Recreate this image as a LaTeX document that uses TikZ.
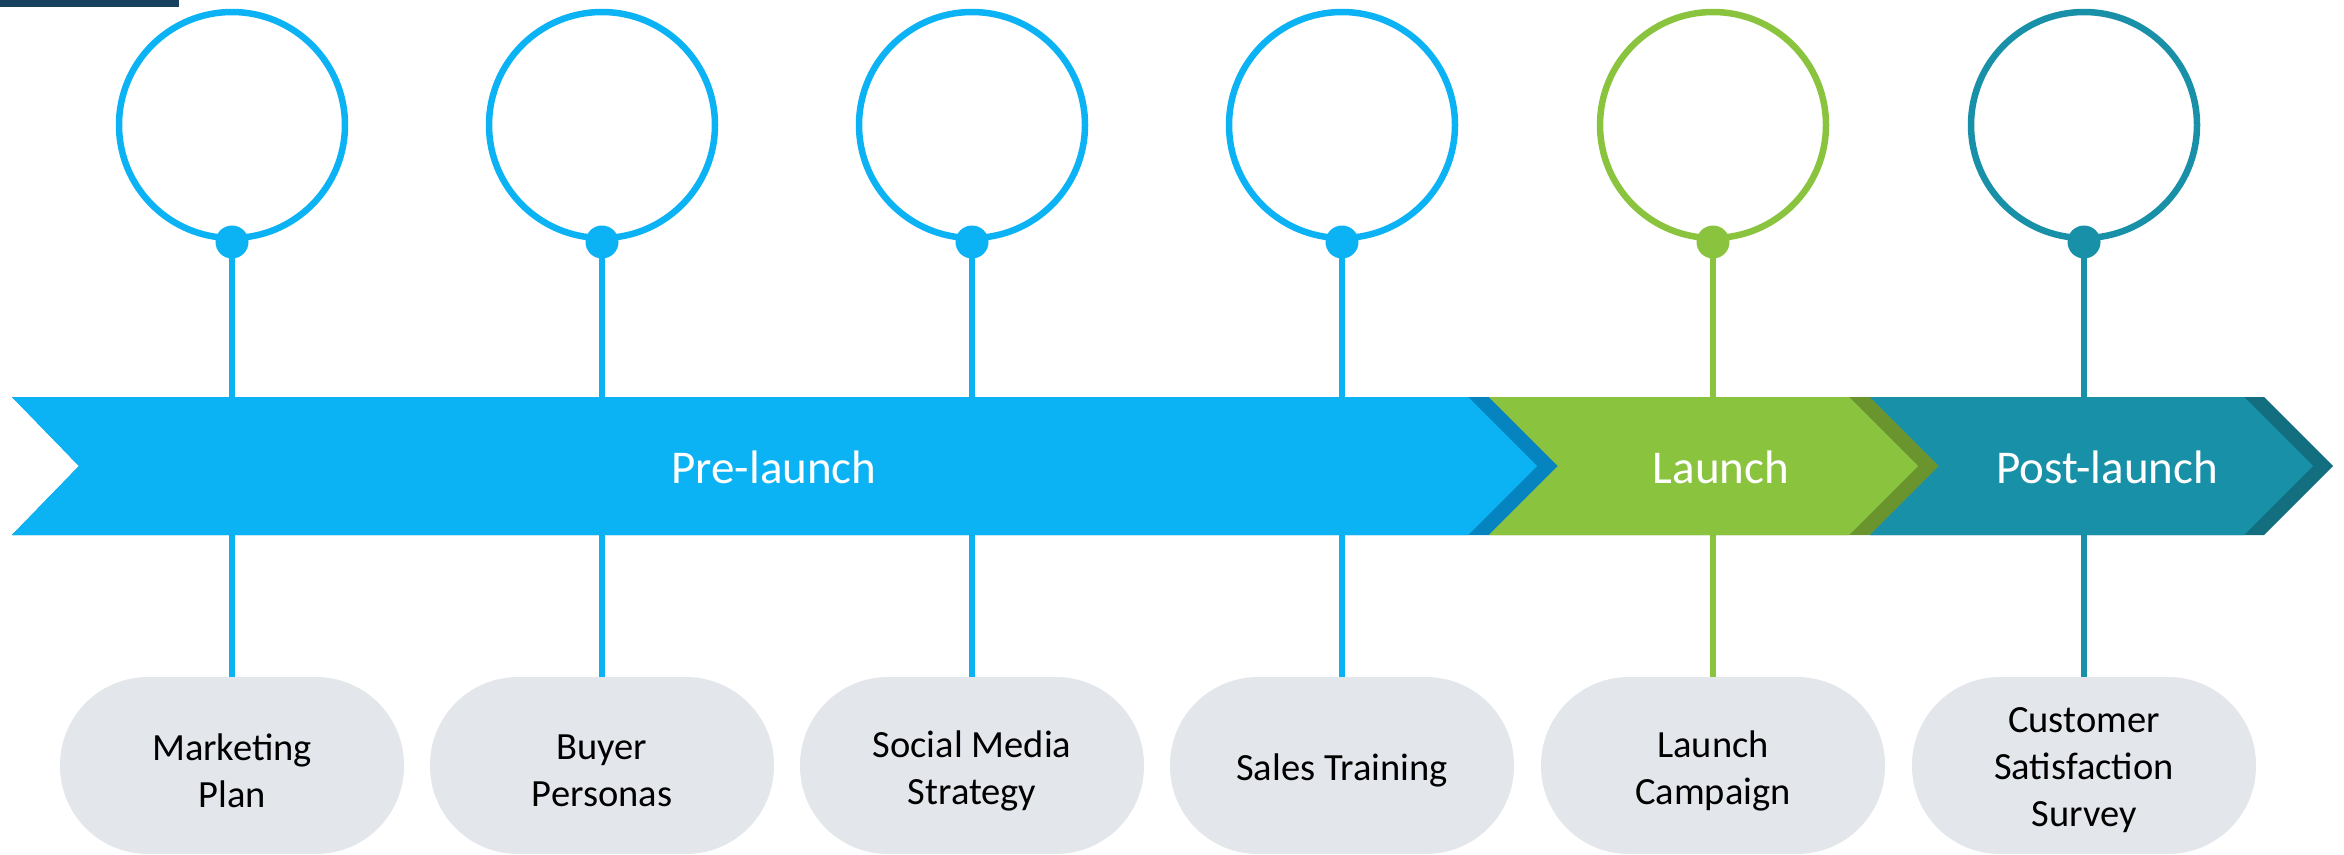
\documentclass[tikz,border=0pt]{standalone}
\usepackage{fontspec}
\setmainfont{Carlito}
\definecolor{cblue}{HTML}{0BB3F5}
\definecolor{cdblue}{HTML}{0684BF}
\definecolor{cgreen}{HTML}{8AC43F}
\definecolor{cdgreen}{HTML}{6A952E}
\definecolor{cteal}{HTML}{1890A8}
\definecolor{cdteal}{HTML}{136E7F}
\definecolor{cpill}{HTML}{E3E6EB}
\definecolor{cnavy}{HTML}{17415F}
\begin{document}
\begin{tikzpicture}[x=1pt,y=-1pt,
 ring/.style={circle,draw=#1,line width=6.5pt,minimum size=226pt,inner sep=0pt},
 knob/.style={circle,fill=#1,minimum size=33pt,inner sep=0pt},
 stem/.style={draw=#1,line width=6.5pt},
 pill/.style={rectangle,fill=cpill,rounded corners=88pt,minimum width=344pt,minimum height=177pt,inner sep=0pt},
 pilltext/.style={align=center,font=\fontsize{38.5}{47}\selectfont,text=black,inner sep=0pt},
 bandtext/.style={text=white,font=\fontsize{47}{56}\selectfont,inner sep=0pt}]
\useasboundingbox (0,0) rectangle (2344,854);
\fill[cnavy] (0,0) rectangle (179,7);
\foreach \i/\x/\c/\t in {1/232/cblue/{Marketing\\Plan},2/602/cblue/{Buyer\\Personas},3/972/cblue/{Social Media\\Strategy},4/1342/cblue/{Sales Training},5/1713/cgreen/{Launch\\Campaign},6/2084/cteal/{Customer\\Satisfaction\\Survey}}{
  \node[ring=\c] (c\i) at (\x,125) {};
  \node[pill] (p\i) at (\x,765.5) {};
  \node[pilltext] (t\i) at (\x,770.5) {\t};
  \draw[stem=\c] (\x,242) -- (p\i.north);
  \node[knob=\c] (d\i) at (\x,242) {};
}
% band
\fill[cdblue] (12,397) -- (1489,397) -- (1558,466) -- (1489,535) -- (12,535) -- (79,466) -- cycle;
\fill[cblue] (12,397) -- (1468,397) -- (1537,466) -- (1468,535) -- (12,535) -- (79,466) -- cycle;
\fill[cdgreen] (1489,397) -- (1870,397) -- (1939,466) -- (1870,535) -- (1489,535) -- (1558,466) -- cycle;
\fill[cgreen] (1489,397) -- (1849,397) -- (1918,466) -- (1849,535) -- (1489,535) -- (1558,466) -- cycle;
\fill[cdteal] (1870,397) -- (2264,397) -- (2333,466) -- (2264,535) -- (1870,535) -- (1939,466) -- cycle;
\fill[cteal] (1870,397) -- (2244,397) -- (2313,466) -- (2244,535) -- (1870,535) -- (1939,466) -- cycle;
\node[bandtext] (pre) at (774,467) {Pre-launch};
\node[bandtext] (launch) at (1721,467) {Launch};
\node[bandtext] (post) at (2107,467) {Post-launch};
\end{tikzpicture}
\end{document}
